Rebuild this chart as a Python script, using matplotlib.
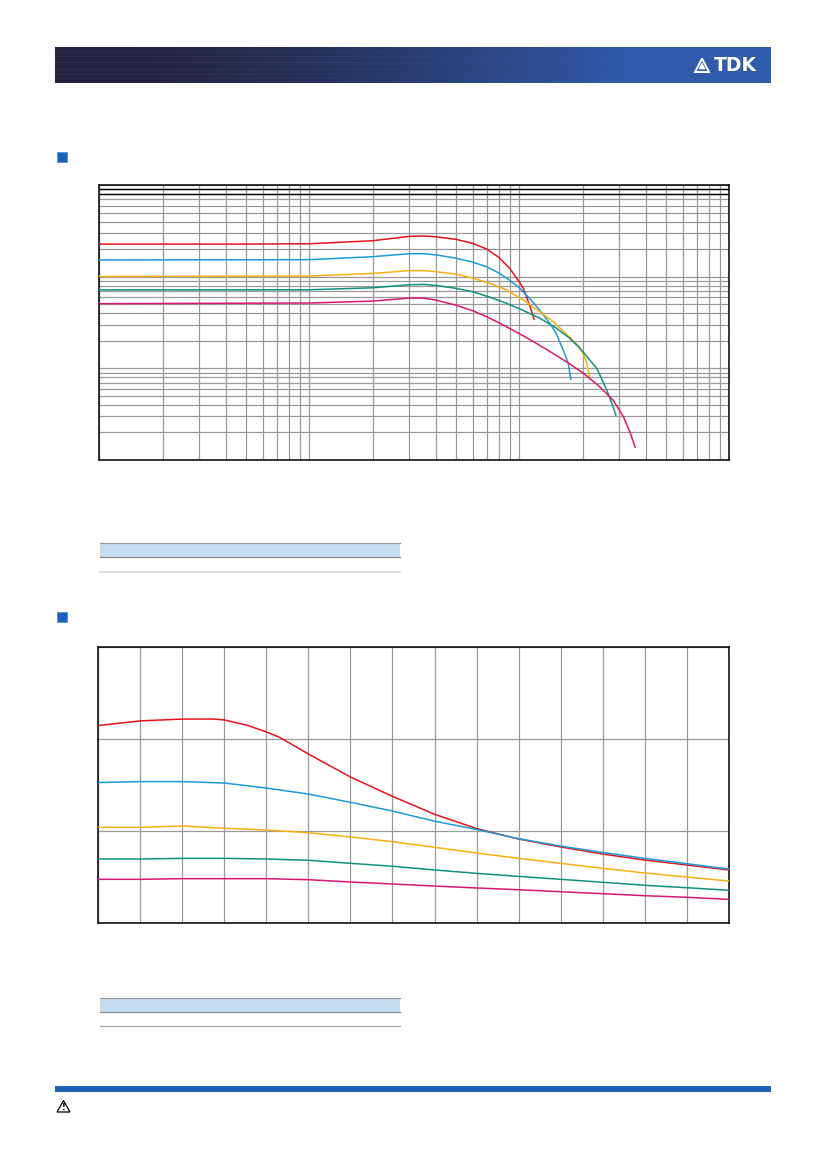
import numpy as np
import matplotlib
matplotlib.use('Agg')
from matplotlib import pyplot as plt
from matplotlib.patches import Rectangle, Polygon

W, H = 826, 1169

# ---- top chart: inductance vs frequency (log-log) ----
f_red = [1, 5, 10, 20, 30, 35, 40, 50, 60, 70, 80, 90, 100, 104.5, 110.4, 114.6, 117.5]
L_red = [228, 228, 230, 248, 277, 279, 274, 257, 232, 201, 163, 124, 88, 75, 53.5, 41.6, 34.4]

f_blue = [1, 10, 20, 30, 35, 40, 50, 60, 70, 80, 90, 100, 112, 125, 140, 150, 161, 171, 176]
L_blue = [153, 154, 166, 179, 179, 174, 160, 145, 129, 110, 92, 76, 58, 43.4, 31, 24, 16.3, 11.4, 7.6]

f_yel = [1, 10, 20, 30, 35, 40, 50, 60, 72.5, 87, 104.5, 125.5, 145, 168, 188, 198, 208, 217]
L_yel = [101, 102, 109, 117, 117, 114, 107, 97, 85, 72, 56, 41.6, 32.4, 23.6, 18.4, 15.6, 12.2, 7.8]

f_grn = [1, 10, 20, 30, 35, 40, 50, 60, 72.5, 87, 104.5, 125.5, 150.7, 174, 194.5, 234, 261, 280, 288]
L_grn = [72, 72.3, 76, 82, 82.8, 80.7, 74.9, 68.8, 60, 51.4, 43, 35.2, 27.4, 21.3, 16.6, 10, 5.8, 3.8, 3.1]

f_mag = [1, 10, 20, 30, 35, 40, 50, 60, 70, 80, 90, 100, 120, 140, 170, 200, 240, 280, 313, 337, 356]
L_mag = [51, 51.8, 54.4, 58.7, 58.7, 55.8, 49, 42.7, 36.7, 31.5, 27.3, 24, 18.9, 15.3, 11.6, 9.0, 6.4, 4.5, 2.97, 2.0, 1.38]

# ---- bottom chart: inductance vs DC current ----
i_all = [0, 100, 200, 300, 400, 500, 600, 700, 800, 900, 1000, 1100, 1200, 1300, 1400, 1500]
i_red = [0, 100, 200, 274, 300, 353, 400, 432, 500, 600, 700, 800, 900, 1000, 1100, 1200, 1300, 1400, 1500]
b_red = [215, 220, 222, 222, 221, 215.5, 208, 202, 184, 159, 138, 118.5, 103, 91.6, 83, 75.3, 68.8, 63.4, 58]
b_blue = [153, 154, 154, 152.5, 147, 140.5, 131.5, 122, 111, 102, 92, 84, 77, 70.6, 64.8, 59]
b_yel = [104.3, 104.3, 105.8, 103.3, 101.4, 98.5, 93.8, 88.7, 82.6, 76.4, 70.6, 65.2, 59.8, 54.7, 50.3, 46]
b_grn = [69.9, 69.9, 70.6, 70.6, 69.9, 68.5, 65.2, 62, 58, 54.3, 51, 47.8, 44.6, 41.3, 38.7, 35.9]
b_mag = [47.8, 47.8, 48.5, 48.5, 48.5, 47.4, 44.9, 42.7, 40.5, 38.4, 36.5, 34.3, 32.2, 30, 28.3, 26]

c_red, c_blue, c_yel, c_grn, c_mag = '#e3131b', '#1d9ad8', '#f4b20f', '#14907f', '#d7196f'
grid_c = '#9a9a9a'

fig = plt.figure(figsize=(W / 100, H / 100), dpi=100)

# page decoration layer in pixel coordinates
bg = fig.add_axes([0, 0, 1, 1], zorder=-5)
bg.set_xlim(0, W)
bg.set_ylim(H, 0)
bg.axis('off')

# header banner: dark navy -> blue with faint streaks
cols = np.linspace(0, 1, 716)
t = np.clip((cols - 0.1) / 0.7, 0, 1) ** 1.4
left = np.array([0.14, 0.14, 0.25])
right = np.array([0.19, 0.36, 0.67])
img = np.zeros((36, 716, 3))
for r in range(36):
    img[r] = left + (right - left) * t[:, None]
streaks = [(5, 0.06), (9, 0.05), (15, 0.07), (22, 0.06), (27, 0.05), (31, 0.04)]
for row, amp in streaks:
    img[row] += amp * (1 - t)[:, None] * np.array([0.8, 0.5, 1.0])
img = np.clip(img, 0, 1)
bg.imshow(img, extent=(55, 771, 83, 47), aspect='auto', interpolation='bilinear')
bg.text(735, 65.5, 'TDK', color='white', fontsize=13.5, fontweight='bold',
        ha='center', va='center', family='DejaVu Sans')
bg.add_patch(Polygon([(695, 72), (709, 72), (702, 58.5)], closed=True, fill=False,
                     ec='white', lw=1.4))
bg.add_patch(Polygon([(699, 69), (705, 69), (702, 63)], closed=True, fill=True,
                     fc='white', ec='white', lw=0.5))

# section markers
for y0 in (152, 612.3):
    bg.add_patch(Rectangle((57.3, y0), 10, 10, fc='#1d5fbd', ec='#5b8ed6', lw=0.6))

# small header tables under the charts
for band_top, rule_y, rule_c, rule_w in ((543.3, 571.7, '#dddddd', 1.3), (998.3, 1026.3, '#aaaaaa', 0.9)):
    bg.add_patch(Rectangle((100, band_top), 300, 14, fc='#c6dcef', ec='none'))
    bg.plot([100, 400], [band_top, band_top], color='#9a9a9a', lw=0.9)
    bg.plot([100, 400], [band_top + 14, band_top + 14], color='#8a8a8a', lw=0.9)
    bg.plot([100, 400], [rule_y, rule_y], color=rule_c, lw=rule_w)

# footer bar and warning sign
bg.add_patch(Rectangle((55, 1086), 716, 6, fc='#1e62b8', ec='none'))
bg.add_patch(Polygon([(57, 1112), (70, 1112), (63.5, 1100.5)], closed=True, fill=False,
                     ec='black', lw=0.9))
bg.text(63.5, 1107.5, '!', fontsize=6, ha='center', va='center', fontweight='bold')


def px_axes(l, t, r, b):
    return fig.add_axes([l / W, 1 - b / H, (r - l) / W, (b - t) / H])


# ---- top chart ----
ax1 = px_axes(99.3, 185.3, 729.3, 460)
ax1.set_xscale('log')
ax1.set_yscale('log')
ax1.set_xlim(1, 1000)
ax1.set_ylim(1, 1000)
ax1.grid(which='both', color=grid_c, lw=0.9)
ax1.axhline(800, color='black', lw=1.0, zorder=2)
ax1.axhline(900, color='black', lw=1.0, zorder=2)
ax1.plot(f_red, L_red, color=c_red, lw=1.1, zorder=3)
ax1.plot(f_blue, L_blue, color=c_blue, lw=1.1, zorder=3)
ax1.plot(f_yel, L_yel, color=c_yel, lw=1.1, zorder=3)
ax1.plot(f_grn, L_grn, color=c_grn, lw=1.1, zorder=3)
ax1.plot(f_mag, L_mag, color=c_mag, lw=1.1, zorder=3)

# ---- bottom chart ----
ax2 = px_axes(98.3, 647.3, 728.7, 923.3)
ax2.set_xlim(0, 1500)
ax2.set_ylim(0, 300)
ax2.set_xticks(range(0, 1501, 100))
ax2.set_yticks(range(0, 301, 100))
ax2.grid(color=grid_c, lw=0.9)
ax2.plot(i_red, b_red, color=c_red, lw=1.1, zorder=3)
ax2.plot(i_all, b_blue, color=c_blue, lw=1.1, zorder=3)
ax2.plot(i_all, b_yel, color=c_yel, lw=1.1, zorder=3)
ax2.plot(i_all, b_grn, color=c_grn, lw=1.1, zorder=3)
ax2.plot(i_all, b_mag, color=c_mag, lw=1.1, zorder=3)

for ax in (ax1, ax2):
    ax.set_axisbelow(True)
    ax.tick_params(which='both', length=0, labelbottom=False, labelleft=False)
    for s in ax.spines.values():
        s.set_linewidth(1.1)
        s.set_color('black')

fig.savefig('out.png', dpi=100)
